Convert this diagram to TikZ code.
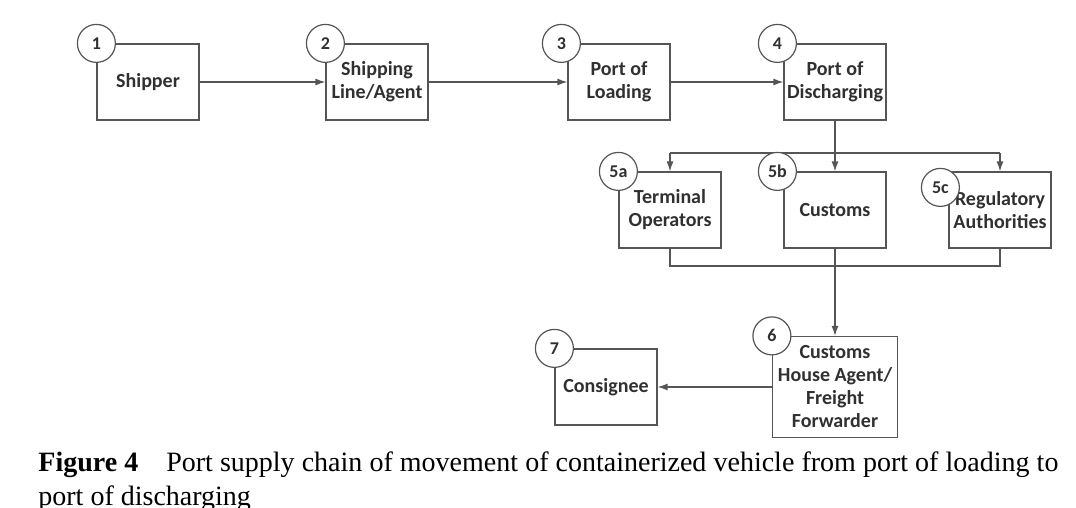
\documentclass[tikz,border=0pt]{standalone}
\usepackage{fontspec}
\setmainfont{Liberation Serif}
\newfontfamily\boxfont{Carlito}
\usepackage{xcolor}
\usepackage{tikz}
\usetikzlibrary{arrows.meta}

\definecolor{linec}{HTML}{555555}
\definecolor{txtc}{HTML}{303030}

\begin{document}
\begin{tikzpicture}[x=0.5pt,y=-0.5pt,
		blk/.style={draw=linec,line width=0.6pt,minimum width=51pt,minimum height=38pt,
			align=center,inner sep=1pt,text=txtc,font=\boxfont\bfseries\fontsize{10}{11.5}\selectfont},
		num/.style={circle,draw=linec,line width=0.6pt,fill=white,minimum size=19pt,inner sep=0pt,
			text=txtc,font=\boxfont\bfseries\fontsize{9}{10}\selectfont},
		arr/.style={draw=linec,line width=0.6pt,-{Latex[length=5pt,width=3.5pt]}},
		ln/.style={draw=linec,line width=0.6pt}]
		\useasboundingbox (0,0) rectangle (1076,508);
		% top row
		\node[blk] (ship)   at (148,82)  {Shipper};
		\node[blk] (agent)  at (377,82)  {Shipping\\Line/Agent};
		\node[blk] (load)   at (619,82)  {Port of\\Loading};
		\node[blk] (disch)  at (835,82)  {Port of\\Discharging};
		% stakeholders at port of discharging
		\node[blk] (term)   at (670,210) {Terminal\\Operators};
		\node[blk] (cust)   at (835,210) {Customs};
		\node[blk] (reg)    at (1000,210) {Regulatory\\Authorities};
		% bottom row
		\node[blk,minimum width=62.5pt,minimum height=50.5pt] (cha) at (835,387)
			{Customs\\House Agent/\\Freight\\Forwarder};
		\node[blk] (cons)   at (606,387) {Consignee};
		% arrows
		\draw[arr] (ship) -- (agent);
		\draw[arr] (agent) -- (load);
		\draw[arr] (load) -- (disch);
		\coordinate (split) at (835,153);
		\coordinate (join)  at (835,266);
		\draw[arr] (disch) -- (cust);
		\draw[ln] (split -| term) -- (split -| reg);
		\draw[arr] (split -| term) -- (term);
		\draw[arr] (split -| reg) -- (reg);
		\draw[ln] (term) |- (join) -| (reg);
		\draw[arr] (cust) -- (cha);
		\draw[arr] (cha) -- (cons);
		% numbers
		\node[num] (n1)  at (ship.north west)  {1};
		\node[num] (n2)  at (agent.north west) {2};
		\node[num] (n3)  at ([xshift=-3pt]load.north west) {3};
		\node[num] (n4)  at ([xshift=-3pt]disch.north west) {4};
		\node[num] (n5a) at (term.north west)  {5a};
		\node[num] (n5b) at ([xshift=-3pt]cust.north west) {5b};
		\node[num] (n5c) at ([xshift=-4pt,yshift=-8pt]reg.north west) {5c};
		\node[num] (n6)  at (cha.north west)   {6};
		\node[num] (n7)  at (cons.north west)  {7};
		% caption
		\node[anchor=base west,inner sep=0pt,font=\fontsize{14}{17}\selectfont] (cap1) at (38,471)
			{\makebox[510pt][s]{\textbf{Figure 4}\quad Port supply chain of movement of containerized vehicle from port of loading to}};
		\node[anchor=base west,inner sep=0pt,font=\fontsize{14}{17}\selectfont] (cap2) at (38,505)
			{port of discharging};
\end{tikzpicture}
\end{document}
